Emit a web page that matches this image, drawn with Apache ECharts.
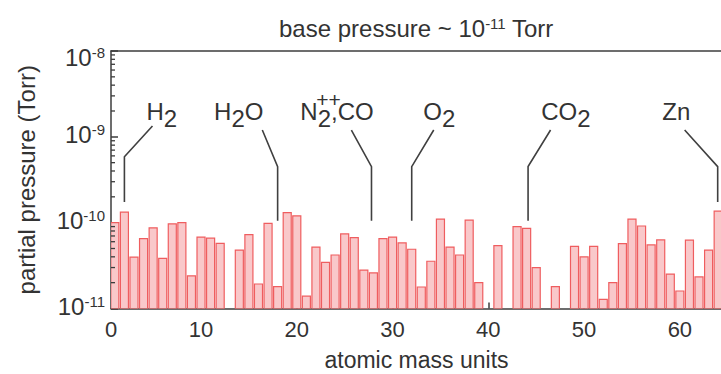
<!DOCTYPE html>
<html>
<head>
<meta charset="utf-8">
<script src="https://cdn.jsdelivr.net/npm/echarts@6/dist/echarts.min.js"></script>
<style>
  html, body { margin: 0; padding: 0; background: #fff; }
  #chart { width: 721px; height: 374px; }
</style>
</head>
<body>
<div id="chart"></div>
<script>
// Residual gas spectrum: partial pressure per atomic mass unit
const masses = [
  1, 2, 3, 4, 5, 6, 7, 8, 9, 10, 11, 12, 13, 14, 15, 16,
  17, 18, 19, 20, 21, 22, 23, 24, 25, 26, 27, 28, 29, 30, 31, 32,
  33, 34, 35, 36, 37, 38, 39, 40, 41, 42, 43, 44, 45, 46, 47, 48,
  49, 50, 51, 52, 53, 54, 55, 56, 57, 58, 59, 60, 61, 62, 63, 64
];
const pressures = [
  1.0e-10, 1.33e-10, 3.97e-11, 6.5e-11, 8.7e-11, 3.83e-11, 9.7e-11, 1.0e-10,
  2.4e-11, 6.8e-11, 6.6e-11, 5.75e-11, null, 4.8e-11, 7.25e-11, 1.93e-11,
  9.8e-11, 1.8e-11, 1.31e-10, 1.2e-10, 1.39e-11, 5.2e-11, 3.45e-11, 4.2e-11,
  7.4e-11, 6.7e-11, 2.8e-11, 2.6e-11, 6.5e-11, 6.8e-11, 5.8e-11, 4.9e-11,
  1.78e-11, 3.55e-11, 1.1e-10, 5.2e-11, 4.2e-11, 1.07e-10, 2.0e-11, null,
  5.4e-11, null, 9.0e-11, 8.6e-11, 3.0e-11, null, 1.8e-11, null,
  5.3e-11, 4.0e-11, 5.3e-11, 1.28e-11, 2.0e-11, 5.7e-11, 1.1e-10, 9.15e-11,
  5.5e-11, 6.3e-11, 2.52e-11, 1.6e-11, 6.25e-11, 2.33e-11, 4.8e-11, 1.36e-10
];

// Axis ticks
const xTickValues = [10, 20, 30, 40, 50, 60];
const xLabelValues = [0, 10, 20, 30, 40, 50, 60];
const yDecades = [1e-11, 1e-10, 1e-9, 1e-8];
const yMinorTicks = [
  2e-11, 3e-11, 4e-11, 5e-11, 6e-11, 7e-11, 8e-11, 9e-11,
  2e-10, 3e-10, 4e-10, 5e-10, 6e-10, 7e-10, 8e-10, 9e-10,
  2e-9, 3e-9, 4e-9, 5e-9, 6e-9, 7e-9, 8e-9, 9e-9
];

// Peak annotations: label anchor and leader line, in (amu, Torr).
// A two-line label (N2++ stacked charge) is anchored at its left edge.
const annotations = [
  { label: 'H{sub|2}',                      at: [5.9, 1.98e-9],   path: [[2, 1.74e-10], [2, 5.87e-10], [4.93, 1.34e-9]] },
  { label: 'H{sub|2}O',                     at: [13.94, 1.98e-9], path: [[18, 1.05e-10], [18, 4.5e-10], [16.4, 1.2e-9]] },
  { label: '{pp|++}\n{m|N}{sub|2}{m|,CO}',  at: [20.37, 2.32e-9], path: [[27.8, 1.05e-10], [27.8, 4.5e-10], [25.7, 1.2e-9]] },
  { label: 'O{sub|2}',                      at: [34.88, 1.98e-9], path: [[32, 1.05e-10], [32, 4.5e-10], [34.3, 1.2e-9]] },
  { label: 'CO{sub|2}',                     at: [48.1, 1.98e-9],  path: [[44.15, 1.05e-10], [44.15, 4.5e-10], [46.5, 1.2e-9]] },
  { label: 'Zn',                            at: [59.63, 1.98e-9], path: [[63.95, 1.74e-10], [63.95, 4.5e-10], [60.5, 1.2e-9]] }
];

const X_MIN = 0.6, X_MAX = 64.4;
const Y_MIN = 1e-11, Y_MAX = 1e-8;
const BAR_HALF = 0.42;

const INK = '#333333';
const AXIS = '#3c3c3c';
const FONT = '"Liberation Sans", Arial, Helvetica, sans-serif';

const barData = [];
masses.forEach((m, i) => {
  if (pressures[i] != null) barData.push([m, pressures[i]]);
});

const chart = echarts.init(document.getElementById('chart'), null, { renderer: 'svg' });

const labelRich = {
  m:   { fontSize: 24, fontFamily: FONT, fill: INK },
  sub: { fontSize: 24, fontFamily: FONT, fill: INK, padding: [15, 0, 0, 0] },
  pp:  { fontSize: 21, fontFamily: FONT, fill: INK, padding: [0, 0, 0, 16] }
};

chart.setOption({
  animation: false,
  backgroundColor: '#ffffff',
  textStyle: { fontFamily: FONT, color: INK },
  title: {
    text: '{t|base pressure ~ 10}{sup|-11}{t| Torr}',
    left: 279,
    top: 16,
    padding: 0,
    textStyle: {
      fontWeight: 'normal',
      rich: {
        t: { fontSize: 24, fontWeight: 'normal', fontFamily: FONT, color: INK },
        sup: { fontSize: 15, fontWeight: 'normal', fontFamily: FONT, color: INK, padding: [0, 0, 10, 0] }
      }
    }
  },
  grid: {
    left: 111,
    top: 51,
    width: 611,
    height: 257.5,
    containLabel: false,
    outerBoundsMode: 'none'
  },
  xAxis: [
    {
      type: 'value',
      min: X_MIN,
      max: X_MAX,
      name: 'atomic mass units',
      nameLocation: 'middle',
      nameGap: 40,
      nameTextStyle: { fontSize: 23, color: INK, fontFamily: FONT },
      axisLine: { show: true, onZero: false, lineStyle: { color: AXIS, width: 1.5 } },
      axisTick: { show: true, inside: true, length: 6, customValues: xTickValues, lineStyle: { color: AXIS, width: 1.5 } },
      axisLabel: {
        show: true,
        margin: 10,
        fontSize: 22,
        color: INK,
        fontFamily: FONT,
        customValues: xLabelValues.map(v => Math.max(v, X_MIN)),
        formatter: v => String(Math.round(v / 10) * 10)
      },
      splitLine: { show: false }
    },
    {
      type: 'value',
      position: 'top',
      min: X_MIN,
      max: X_MAX,
      axisLine: { show: true, onZero: false, lineStyle: { color: AXIS, width: 1.5 } },
      axisTick: { show: false },
      axisLabel: { show: false },
      splitLine: { show: false }
    }
  ],
  yAxis: {
    type: 'log',
    logBase: 10,
    min: Y_MIN,
    max: Y_MAX,
    name: 'partial pressure (Torr)',
    nameLocation: 'middle',
    nameGap: 73,
    nameTextStyle: { fontSize: 24, color: INK, fontFamily: FONT },
    axisLine: { show: true, onZero: false, lineStyle: { color: AXIS, width: 1.5 } },
    axisTick: { show: true, inside: true, length: 7, lineStyle: { color: AXIS, width: 1.5 } },
    axisLabel: {
      margin: 6,
      customValues: yDecades,
      formatter: v => {
        const e = Math.round(Math.log10(v));
        // the top label sits just below the frame
        return e >= Math.round(Math.log10(Y_MAX))
          ? '{bt|10}{st|' + e + '}'
          : '{b|10}{s|' + e + '}';
      },
      rich: {
        b:  { fontSize: 24, fontFamily: FONT, color: INK, padding: [0, 0, 4, 0] },
        s:  { fontSize: 15, fontFamily: FONT, color: INK, padding: [0, 0, 14, 0] },
        bt: { fontSize: 24, fontFamily: FONT, color: INK, padding: [12, 0, 0, 0] },
        st: { fontSize: 15, fontFamily: FONT, color: INK, padding: [12, 0, 10, 0] }
      }
    },
    splitLine: { show: false }
  },
  series: [
    {
      name: 'partial pressure',
      type: 'custom',
      coordinateSystem: 'cartesian2d',
      clip: true,
      data: barData,
      renderItem(params, api) {
        const m = api.value(0);
        const p = api.value(1);
        const tl = api.coord([m - BAR_HALF, p]);
        const br = api.coord([m + BAR_HALF, Y_MIN]);
        return {
          type: 'rect',
          shape: { x: tl[0], y: tl[1], width: br[0] - tl[0], height: br[1] - tl[1] },
          style: { fill: '#f9c8ca', stroke: '#ef5d5f', lineWidth: 1.2 }
        };
      },
      z: 2
    },
    {
      name: 'minor ticks',
      type: 'custom',
      coordinateSystem: 'cartesian2d',
      silent: true,
      data: yMinorTicks.map(v => [X_MIN, v]),
      renderItem(params, api) {
        const p = api.coord([api.value(0), api.value(1)]);
        return {
          type: 'line',
          shape: { x1: p[0], y1: p[1], x2: p[0] + 4, y2: p[1] },
          style: { stroke: AXIS, lineWidth: 1.3 }
        };
      },
      z: 3
    },
    {
      name: 'peaks',
      type: 'custom',
      coordinateSystem: 'cartesian2d',
      silent: true,
      data: annotations.map((a, i) => [a.at[0], a.at[1], i]),
      renderItem(params, api) {
        const a = annotations[api.value(2)];
        const stacked = a.label.indexOf('\n') >= 0;
        const children = [{
          type: 'polyline',
          shape: { points: a.path.map(pt => api.coord(pt)) },
          style: { stroke: '#404040', lineWidth: 1.6, fill: null }
        }];
        const c = api.coord(a.at);
        children.push({
          type: 'text',
          x: c[0],
          y: c[1],
          style: {
            text: a.label,
            align: stacked ? 'left' : 'center',
            verticalAlign: 'middle',
            lineHeight: stacked ? 12 : undefined,
            fontSize: 24,
            fontFamily: FONT,
            fill: INK,
            rich: labelRich
          }
        });
        return { type: 'group', children };
      },
      z: 4
    }
  ]
});
</script>
</body>
</html>
